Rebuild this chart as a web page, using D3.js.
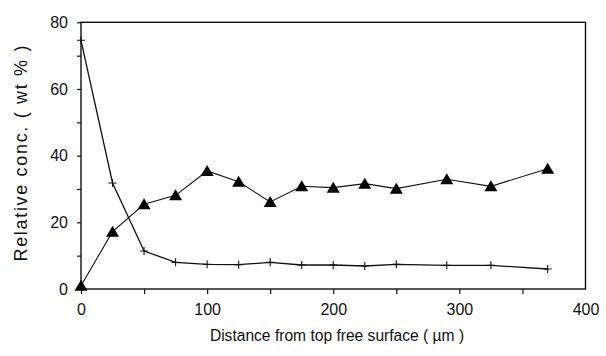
<!DOCTYPE html>
<html><head><meta charset="utf-8">
<script src="https://cdn.jsdelivr.net/npm/d3@7"></script>
<style>body{margin:0;background:#fff}svg{display:block}text{font-family:"Liberation Sans",Arial,sans-serif;fill:#111}</style>
</head><body><svg id="c" width="606" height="356"></svg>
<script>
const distances = [0, 25, 50, 75, 100, 125, 150, 175, 200, 225, 250, 290, 325, 370];
const plusValues = [74.6, 31.8, 11.4, 8.0, 7.4, 7.3, 8.0, 7.2, 7.2, 6.9, 7.4, 7.1, 7.1, 6.0];
const triangleValues = [1.0, 17.2, 25.4, 28.1, 35.4, 32.2, 26.1, 30.8, 30.4, 31.6, 30.1, 32.9, 30.8, 36.1];
const xTicks = [0, 100, 200, 300, 400];
const xMinorTicks = [0, 50, 100, 150, 200, 250, 300, 350];
const yTicks = [0, 20, 40, 60, 80];
const yMinorTicks = [0, 10, 20, 30, 40, 50, 60, 70, 80];
const xTitle = "Distance from top free surface ( \u00b5m )";
const yTitle = "Relative conc. ( wt % )";

const svg = d3.select("#c");
const L = 81, R = 585.5, T = 22.3, B = 289;
const x = d3.scaleLinear().domain([0, 400]).range([L, R]);
const y = d3.scaleLinear().domain([0, 80]).range([B, T]);
const FONT = '"Liberation Sans",Arial,sans-serif';

// frame
svg.append("rect").attr("x", L).attr("y", T).attr("width", R - L).attr("height", B - T)
  .attr("fill", "none").attr("stroke", "#111").attr("stroke-width", 1.4);

// x axis ticks
svg.append("g").attr("transform", `translate(0,${B})`)
  .call(d3.axisBottom(x).tickValues(xMinorTicks).tickSize(5).tickFormat(""))
  .call(g => { g.select(".domain").remove(); g.selectAll("line").attr("stroke", "#111").attr("stroke-width", 1.2); });
svg.append("g").attr("transform", `translate(0,${B})`)
  .call(d3.axisBottom(x).tickValues(xTicks).tickSize(0).tickPadding(15).tickFormat(d3.format("d")))
  .call(g => { g.select(".domain").remove(); g.selectAll("text").attr("font-size", 16).style("font-family", FONT).attr("fill", "#111"); });

// y axis ticks
svg.append("g").attr("transform", `translate(${L},0)`)
  .call(d3.axisLeft(y).tickValues(yMinorTicks).tickSize(4).tickFormat(""))
  .call(g => { g.select(".domain").remove(); g.selectAll("line").attr("stroke", "#111").attr("stroke-width", 1.2); });
svg.append("g").attr("transform", `translate(${L},0)`)
  .call(d3.axisLeft(y).tickValues(yTicks).tickSize(0).tickPadding(13).tickFormat(d3.format("d")))
  .call(g => { g.select(".domain").remove(); g.selectAll("text").attr("font-size", 16).style("font-family", FONT).attr("fill", "#111"); });

// titles
svg.append("text").attr("x", 337).attr("y", 341).attr("text-anchor", "middle")
  .attr("font-size", 15.6).text(xTitle);
svg.append("text").attr("transform", `translate(27,153.5) rotate(-90)`)
  .attr("text-anchor", "middle").attr("font-size", 18).attr("textLength", 216).attr("lengthAdjust", "spacing").text(yTitle);

const line = d3.line().x(d => x(d[0])).y(d => y(d[1]));
const plusData = distances.map((d, i) => [d, plusValues[i]]);
const triData = distances.map((d, i) => [d, triangleValues[i]]);

svg.append("path").datum(plusData).attr("d", line).attr("fill", "none").attr("stroke", "#111").attr("stroke-width", 1.3);
svg.append("path").datum(triData).attr("d", line).attr("fill", "none").attr("stroke", "#111").attr("stroke-width", 1.1);

// plus markers
svg.append("g").selectAll("path").data(plusData).join("path")
  .attr("d", d => { const cx = x(d[0]), cy = y(d[1]); return `M${cx - 4},${cy}H${cx + 4}M${cx},${cy - 4}V${cy + 4}`; })
  .attr("stroke", "#111").attr("stroke-width", 1.1).attr("fill", "none");

// triangle markers
svg.append("g").selectAll("path").data(triData).join("path")
  .attr("d", d => { const cx = x(d[0]), cy = y(d[1]); return `M${cx},${cy - 6}L${cx + 6.5},${cy + 5}L${cx - 6.5},${cy + 5}Z`; })
  .attr("fill", "#000");
</script></body></html>
